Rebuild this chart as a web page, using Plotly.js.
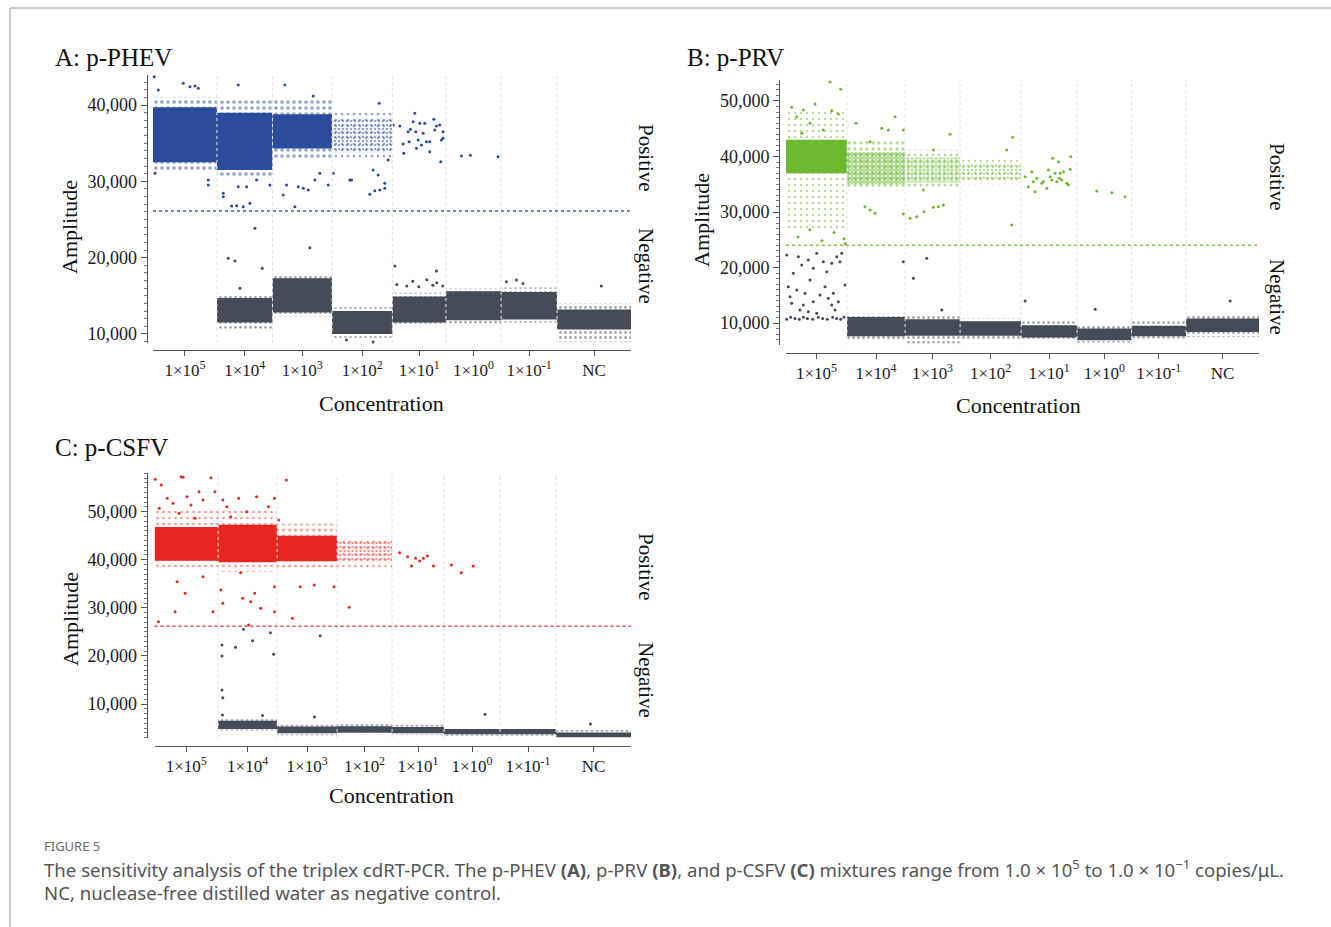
<!DOCTYPE html>
<html>
<head>
<meta charset="utf-8">
<script src="https://cdn.plot.ly/plotly-3.0.1.min.js"></script>
<style>html,body{margin:0;padding:0;background:#fff;}#chart{width:1331px;height:927px;}</style>
</head>
<body>
<div id="chart"></div>
<script>
// ---------------- DATA ----------------
const wellLabels = ['1×10<sup>5</sup>','1×10<sup>4</sup>','1×10<sup>3</sup>','1×10<sup>2</sup>','1×10<sup>1</sup>','1×10<sup>0</sup>','1×10<sup>-1</sup>','NC'];
const panelTitles = ['A: p-PHEV','B: p-PRV','C: p-CSFV'];
const thresholds = [26100, 24000, 26200];

// droplet events per well (x extent of each well)
const eventsA = [16000, 13900, 14900, 15100, 13400, 13800, 14000, 18500];
const eventsB = [15250, 14500, 13750, 15250, 14000, 13600, 13600, 18250];
const eventsC = [15900, 14750, 15000, 13750, 13000, 14000, 14000, 18750];

// Panel A clusters (amplitude)
const posCoreLowA  = [32500, 31500, 34300, 33800, null, null, null, null];
const posCoreHighA = [39700, 39000, 38800, 38300, null, null, null, null];
const posCoreDensA = [1, 1, 1, 0.35, 0, 0, 0, 0];
const posHaloLowA  = [31300, 30400, 32800, 32800, null, null, null, null];
const posHaloHighA = [41000, 40600, 40900, 39000, null, null, null, null];
const posHaloDensA = [0.3, 0.3, 0.3, 0.15, 0, 0, 0, 0];
const negCoreLowA  = [null, 11500, 12800, 10000, 11500, 11800, 11900, 10600];
const negCoreHighA = [null, 14700, 17300, 13000, 14900, 15600, 15500, 13200];
const negHaloLowA  = [null, 10700, 12300, 9500, 11000, 11400, 11500, 9000];
const negHaloHighA = [null, 15100, 17800, 13500, 15400, 16000, 16100, 14000];

// Panel B clusters
const posCoreLowB  = [37000, 35000, 35300, 35800, null, null, null, null];
const posCoreHighB = [43000, 40800, 39800, 38700, null, null, null, null];
const posCoreDensB = [1, 0.8, 0.55, 0.35, 0, 0, 0, 0];
const posHaloLowB  = [27000, 34000, 34500, 35000, null, null, null, null];
const posHaloHighB = [48000, 42800, 41200, 39700, null, null, null, null];
const posHaloDensB = [0.12, 0.25, 0.2, 0.12, 0, 0, 0, 0];
const negCoreLowB  = [null, 7600, 7700, 7700, 7400, 6900, 7600, 8400];
const negCoreHighB = [null, 11100, 10700, 10300, 9600, 9000, 9500, 10800];
const negHaloLowB  = [null, 7000, 6300, 7000, 6900, 6500, 7200, 7500];
const negHaloHighB = [null, 11700, 11200, 10800, 10300, 9700, 10300, 11400];

// Panel C clusters
const posCoreLowC  = [39800, 39500, 39700, 39500, null, null, null, null];
const posCoreHighC = [46800, 47300, 45000, 44000, null, null, null, null];
const posCoreDensC = [1, 1, 1, 0.35, 0, 0, 0, 0];
const posHaloLowC  = [38000, 37500, 38300, 38200, null, null, null, null];
const posHaloHighC = [50500, 50500, 47500, 44800, null, null, null, null];
const posHaloDensC = [0.15, 0.15, 0.2, 0.12, 0, 0, 0, 0];
const negCoreLowC  = [null, 4800, 3900, 4000, 3900, 3700, 3700, 3100];
const negCoreHighC = [null, 6500, 5300, 5400, 5200, 4800, 4800, 4100];
const negHaloLowC  = [null, 4500, 3500, 3700, 3600, 3400, 3400, 2900];
const negHaloHighC = [null, 7000, 5700, 5900, 5700, 5200, 5200, 4600];

// isolated droplets: [event, amplitude]
const posOutA = [[60080,37380],[61750,37250],[62580,34890],[62750,33670],[63830,36500],[64080,35190],[64420,36810],[65080,37820],[65500,38910],[65750,36500],[65920,34330],[66330,35420],[66750,37600],[67170,34760],[67580,36290],[68000,37600],[68420,35190],[69250,33880],[69250,35190],[70250,38130],[70500,36730],[70920,37250],[71750,37380],[72000,32570],[72170,35420],[72580,36500],[72580,35640],[77170,33320],[79420,33410],[86330,33230],
  [500,31050],[13830,30170],[13830,29520],[17580,28430],[17580,27990],[19670,26770],[20920,26810],[22580,26680],[24250,27120],[21330,29300],[23420,29300],[25920,30170],[29250,29520],[32580,28210],[33420,29520],[35500,26680],[36330,29300],[37580,29080],[38830,28860],[40500,30170],[41750,31050],[43830,29520],[45080,31050],[49250,30170],[49670,30170],[54250,28300],[55500,28780],[56750,28860],[58000,29080],[58000,29740],[56330,30830],[55080,31490],[58830,32800],[56580,40220],[7580,42840],[9250,42400],[10500,42490],[11330,42190],[300,43700],[1330,41970],[21330,42620],[33000,42620],[40080,41180]];
const negOutA = [[25500,23840],[18830,19910],[20500,19560],[27330,18610],[39250,21310],[21750,15990],[60500,18910],[70920,18250],[112180,16290],[55080,8950],[48420,9220],
  [61000,16500],[63500,16300],[65000,16900],[66500,16200],[68500,17100],[70000,16400],[71000,16700],[72500,16300],[88420,16850],[90920,17070],[92580,16630]];

const posOutB = [[11000,53400],[13670,52110],[1420,48860],[4330,48380],[7250,49460],[11420,48250],[13080,47660],[2670,47170],[6000,45980],[9330,44770],[3920,44180],[17500,45980],[27250,47170],[23920,45080],[25580,44770],[21000,42670],[29330,44770],[41000,44000],[36830,41170],[56670,43460],[55170,41170],[19750,30960],[21000,30360],[22250,29760],[29330,29640],[31000,28860],[32670,29160],[34500,30050],[36830,30840],[38080,30960],[39330,31260],[34330,33960],[56420,27660],
  [3000,25500],[9000,24800],[14500,25200],[14800,24300],[6000,26800],[12000,26300],
  [59750,36360],[60580,34560],[61420,37260],[61830,35460],[62250,33660],[62670,36070],[63920,35170],[64330,35460],[65170,34270],[65580,37570],[66000,36360],[66420,35760],[66670,39670],[67250,36970],[67670,35460],[68080,39060],[68330,36070],[68500,36970],[69330,37260],[70170,35170],[70580,34870],[71000,37690],[71170,39960],[68920,35760],
  [77670,33780],[81420,33480],[84750,32760]];
const negOutB = [[167,10660],[1170,11020],[2250,10800],[3330,10660],[4330,11020],[5330,10800],[6670,10660],[8080,11020],[9170,10800],[10330,10660],[11670,11020],[12670,10800],[13670,10660],[14500,11020],
  [167,22250],[1830,18950],[3080,21940],[3920,20450],[5580,21350],[6000,17740],[6830,19850],[7670,22560],[9330,21040],[10170,19240],[11420,20750],[12670,21940],[13500,21040],[13920,22560],[14750,16840],[1000,14740],[2670,15940],[4750,15350],[6830,13830],[8500,15040],[10580,14440],[11420,13240],[12250,12340],[13080,13830],[3500,12340],[5580,12030],[7670,11740],[1420,13540],[4330,13240],[583,16540],[9750,16540],[11830,15350],
  [29330,21040],[31830,18050],[35170,21660],[38920,12340],[59750,13960],[77250,12460],[111000,13960]];

const posOutC = [[200,56740],[1680,55550],[6650,57280],[7150,57150],[11130,54160],[14100,57070],[15100,54160],[12130,52430],[4650,51750],[3180,52790],[9130,51390],[6150,49670],[17080,52430],[18080,51040],[21050,52790],[23050,50000],[25530,53120],[28500,51040],[30000,52790],[32980,56590],[31000,48270],[19080,48960],[10130,48620],[1180,50700],[8150,53120],
  [980,27120],[5150,29200],[7650,33030],[5650,35440],[12130,36480],[14600,29200],[16580,33710],[17080,30950],[22050,31990],[24050,31280],[26530,29910],[25030,33030],[30000,29200],[30000,34400],[34480,27830],[36450,34400],[39930,34750],[44900,34400],[48680,30120],[23550,26430],[21550,37310],
  [61300,41470],[63280,40640],[64280,38710],[65280,40310],[66280,39750],[67250,40310],[68250,40790],[69750,38710],[74230,38910],[76700,37310],[79680,38710]];
const negOutC = [[16880,22270],[16880,19990],[16880,12920],[17080,11310],[20250,21800],[22250,25540],[24530,23170],[29000,24830],[29800,20340],[41430,24210],[82650,7860],[109000,5840],[17000,7700],[27000,7600],[40000,7300]];

// ---------------- STYLE ----------------
const W = 1331, H = 927;
const px = v => v / W, py = v => 1 - v / H;
const serif = 'Liberation Serif, Times New Roman, serif';
const grey = '#454b57';
const posColors = ['#2b4c9c', '#6cb92f', '#e8251f'];
const lineColors = ['#3d5cb8', '#7cc640', '#f0463f'];

const panels = [
  {ev: eventsA, xa: 'x', ya: 'y', pc: [posCoreLowA,posCoreHighA,posCoreDensA], ph: [posHaloLowA,posHaloHighA,posHaloDensA],
   nc: [negCoreLowA,negCoreHighA], nh: [negHaloLowA,negHaloHighA], po: posOutA, no: negOutA,
   xdom: [153, 631], xpos: 350, ydom: [75, 343], ypos: 146.5, yr: [8820, 43930],
   title: [53, 58], amp: [70, 227], conc: [381, 403], pos: [646, 158], neg: [646, 266]},
  {ev: eventsB, xa: 'x2', ya: 'y2', pc: [posCoreLowB,posCoreHighB,posCoreDensB], ph: [posHaloLowB,posHaloHighB,posHaloDensB],
   nc: [negCoreLowB,negCoreHighB], nh: [negHaloLowB,negHaloHighB], po: posOutB, no: negOutB,
   xdom: [786, 1259], xpos: 353, ydom: [80, 345], ypos: 779, yr: [6040, 53780],
   title: [685, 58], amp: [701, 220], conc: [1018, 405], pos: [1277, 177], neg: [1277, 297]},
  {ev: eventsC, xa: 'x3', ya: 'y3', pc: [posCoreLowC,posCoreHighC,posCoreDensC], ph: [posHaloLowC,posHaloHighC,posHaloDensC],
   nc: [negCoreLowC,negCoreHighC], nh: [negHaloLowC,negHaloHighC], po: posOutC, no: negOutC,
   xdom: [154.5, 631], xpos: 746, ydom: [473, 738], ypos: 146.5, yr: [2930, 58050],
   title: [53, 448], amp: [70, 619], conc: [391, 795], pos: [646, 567], neg: [646, 680]}
];

function band(xa, ya, x0, x1, lo, hi, color, dens, cell) {
  const t = {type: 'scatter', mode: 'none', x: [x0, x1, x1, x0, x0], y: [lo, lo, hi, hi, lo],
    fill: 'toself', xaxis: xa, yaxis: ya, hoverinfo: 'skip', showlegend: false};
  if (dens >= 1) { t.fillcolor = color; }
  else {
    t.fillcolor = 'rgba(0,0,0,0)';
    t.fillpattern = {shape: '.', fgcolor: color, size: cell, solidity: dens, fillmode: 'overlay'};
  }
  return t;
}

const traces = [], shapes = [], annotations = [];
const layout = {width: W, height: H, margin: {l: 0, r: 0, t: 0, b: 0}, paper_bgcolor: '#fff', plot_bgcolor: 'rgba(0,0,0,0)',
  showlegend: false, shapes: shapes, annotations: annotations};

panels.forEach((p, k) => {
  const bounds = [0];
  p.ev.forEach(e => bounds.push(bounds[bounds.length - 1] + e));
  const centers = p.ev.map((e, i) => (bounds[i] + bounds[i + 1]) / 2);
  const col = posColors[k];
  for (let i = 0; i < p.ev.length; i++) {
    const x0 = bounds[i], x1 = bounds[i + 1];
    if (p.nh[0][i] != null) traces.push(band(p.xa, p.ya, x0, x1, p.nh[0][i], p.nh[1][i], grey, 0.25, 5));
    if (p.nc[0][i] != null) traces.push(band(p.xa, p.ya, x0, x1, p.nc[0][i], p.nc[1][i], grey, 1, 3));
    if (p.ph[0][i] != null) traces.push(band(p.xa, p.ya, x0, x1, p.ph[0][i], p.ph[1][i], col, p.ph[2][i], 6));
    if (p.pc[0][i] != null) traces.push(band(p.xa, p.ya, x0, x1, p.pc[0][i], p.pc[1][i], col, p.pc[2][i], 4));
  }
  traces.push({type: 'scatter', mode: 'markers', x: p.no.map(d => d[0]), y: p.no.map(d => d[1]), xaxis: p.xa, yaxis: p.ya,
    marker: {size: 3, color: grey}, hoverinfo: 'skip', showlegend: false, cliponaxis: false});
  traces.push({type: 'scatter', mode: 'markers', x: p.po.map(d => d[0]), y: p.po.map(d => d[1]), xaxis: p.xa, yaxis: p.ya,
    marker: {size: 3, color: col}, hoverinfo: 'skip', showlegend: false, cliponaxis: false});

  const sfx = k === 0 ? '' : String(k + 1);
  layout['xaxis' + sfx] = {domain: [px(p.xdom[0]), px(p.xdom[1])], anchor: 'free', position: py(p.xpos),
    range: [0, bounds[bounds.length - 1]], showgrid: false, zeroline: false, showline: true, linecolor: '#555', linewidth: 1,
    tickmode: 'array', tickvals: centers, ticktext: wellLabels, ticks: 'outside', ticklen: 5, tickcolor: '#555',
    tickfont: {family: serif, size: 17, color: '#1a1a1a'}, fixedrange: true};
  layout['yaxis' + sfx] = {domain: [py(p.ydom[1]), py(p.ydom[0])], anchor: 'free', position: px(p.ypos),
    range: p.yr, showgrid: false, zeroline: false, showline: true, linecolor: '#555', linewidth: 1,
    tick0: 0, dtick: 10000, tickformat: ',d', ticks: 'outside', ticklen: 6, tickcolor: '#555',
    minor: {dtick: 1000, ticks: 'outside', ticklen: 3, tickcolor: '#777', showgrid: false},
    tickfont: {family: serif, size: 18, color: '#1a1a1a'}, fixedrange: true};

  // well boundaries
  for (let i = 1; i < bounds.length - 1; i++) {
    shapes.push({type: 'line', xref: p.xa, yref: p.ya + ' domain', x0: bounds[i], x1: bounds[i], y0: 0, y1: 1,
      line: {color: '#e2e2e2', width: 1, dash: 'dot'}, layer: 'above'});
  }
  // threshold
  shapes.push({type: 'line', xref: p.xa + ' domain', yref: p.ya, x0: 0, x1: 1, y0: thresholds[k], y1: thresholds[k],
    line: {color: lineColors[k], width: 1.5, dash: 'dot'}, layer: 'above'});

  const ann = (text, xy, size, extra) => annotations.push(Object.assign({text: text, x: px(xy[0]), y: py(xy[1]),
    xref: 'paper', yref: 'paper', showarrow: false, font: {family: serif, size: size, color: '#111'}}, extra || {}));
  ann(panelTitles[k], p.title, 25, {xanchor: 'left', yanchor: 'middle'});
  ann('Amplitude', p.amp, 22, {textangle: -90, xanchor: 'center', yanchor: 'middle'});
  ann('Concentration', p.conc, 22, {xanchor: 'center', yanchor: 'middle'});
  ann('Positive', p.pos, 21, {textangle: 90, xanchor: 'center', yanchor: 'middle'});
  ann('Negative', p.neg, 21, {textangle: 90, xanchor: 'center', yanchor: 'middle'});
});

// page frame
shapes.push({type: 'line', xref: 'paper', yref: 'paper', x0: px(10), x1: px(10), y0: 0, y1: py(8), line: {color: '#9a9a9a', width: 1}});
shapes.push({type: 'line', xref: 'paper', yref: 'paper', x0: px(10), x1: 1, y0: py(8), y1: py(8), line: {color: '#9a9a9a', width: 1}});

// caption
const sans = 'Noto Sans, Open Sans, sans-serif';
annotations.push({text: 'FIGURE 5', x: px(42), y: py(846), xref: 'paper', yref: 'paper', xanchor: 'left', yanchor: 'middle',
  showarrow: false, font: {family: sans, size: 13, color: '#6a6a6a'}});
annotations.push({text: 'The sensitivity analysis of the triplex cdRT-PCR. The p-PHEV <b>(A)</b>, p-PRV <b>(B)</b>, and p-CSFV <b>(C)</b> mixtures range from 1.0 × 10<sup>5</sup> to 1.0 × 10<sup>−1</sup> copies/μL.',
  x: px(42), y: py(868), xref: 'paper', yref: 'paper', xanchor: 'left', yanchor: 'middle', align: 'left',
  showarrow: false, font: {family: sans, size: 18.6, color: '#555'}});
annotations.push({text: 'NC, nuclease-free distilled water as negative control.',
  x: px(42), y: py(892), xref: 'paper', yref: 'paper', xanchor: 'left', yanchor: 'middle', align: 'left',
  showarrow: false, font: {family: sans, size: 18.6, color: '#555'}});

Plotly.newPlot('chart', traces, layout, {displayModeBar: false, staticPlot: true});
</script>
</body>
</html>
